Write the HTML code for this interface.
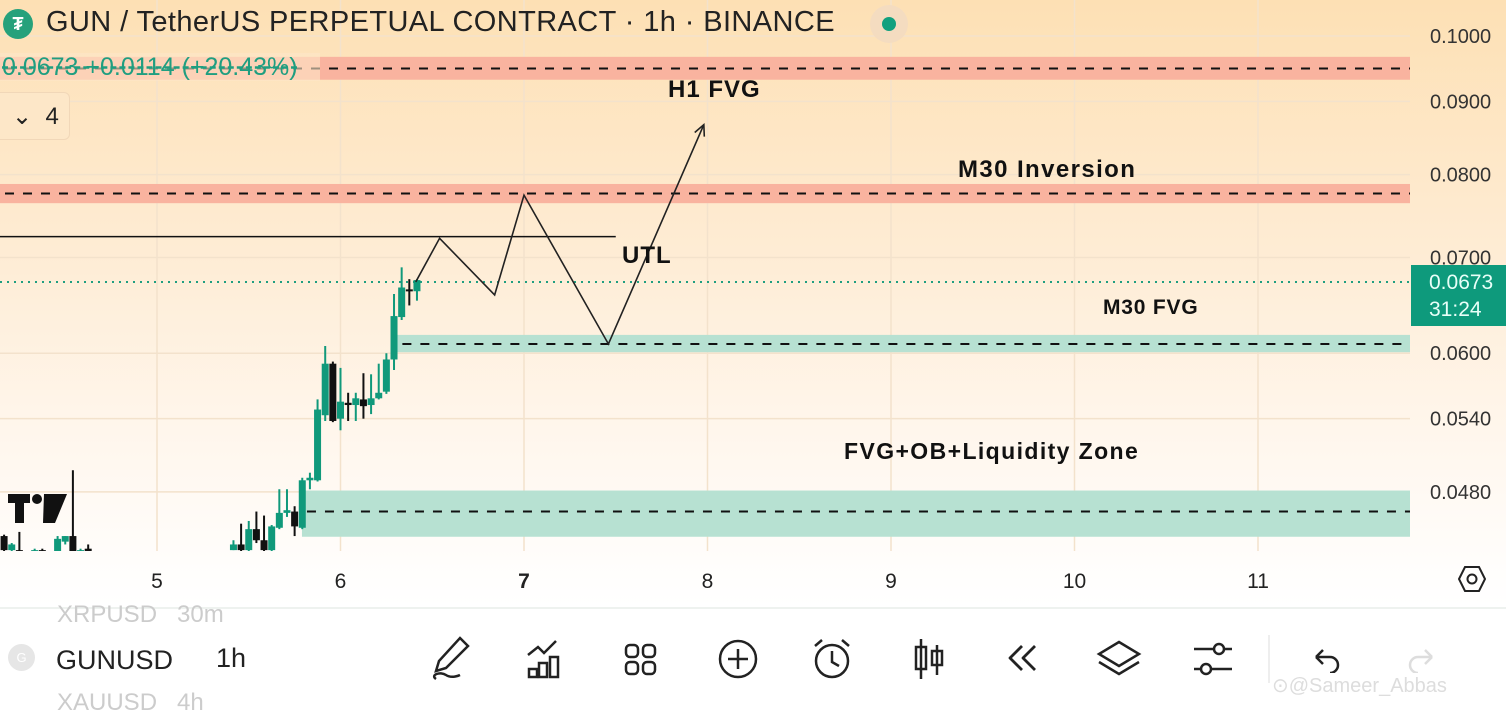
<!DOCTYPE html>
<html><head><meta charset="utf-8">
<style>
html,body{margin:0;padding:0;}
body{width:1506px;height:705px;overflow:hidden;position:relative;font-family:"Liberation Sans",sans-serif;background:#fff;}
#bg{position:absolute;left:0;top:0;width:1506px;height:607px;background:linear-gradient(#fde0b4 0px,#feecd4 250px,#fff6ec 430px,#fffdfb 560px,#fff 607px);}
svg{position:absolute;left:0;top:0;}
</style></head>
<body>
<div id="bg"></div>
<svg id="chart" width="1506" height="705">
<defs><clipPath id="plotclip"><rect x="0" y="0" width="1410" height="551"/></clipPath></defs>
<g id="grid"></g>
<g id="zones"></g>
<g id="candles" clip-path="url(#plotclip)"></g>
<g id="draw"></g>
<g id="axes"></g>
<g fill="#111">
 <rect x="8" y="494" width="22" height="9"/><rect x="15" y="494" width="9" height="29"/>
 <circle cx="37" cy="499" r="5"/><polygon points="44,494 67,494 55,523 43,523"/>
</g>
</svg>

<!-- header -->
<div style="position:absolute;left:3px;top:9px;width:30px;height:30px;border-radius:50%;background:#26a17b;color:#fff;font-size:18px;font-weight:bold;text-align:center;line-height:30px;">₮</div>
<div style="position:absolute;left:46px;top:6px;font-size:29px;letter-spacing:0.4px;color:#222;white-space:nowrap;">GUN / TetherUS PERPETUAL CONTRACT · 1h · BINANCE</div>
<div style="position:absolute;left:870px;top:5px;width:38px;height:38px;border-radius:50%;background:#f4dcc0;"><div style="position:absolute;left:12px;top:12px;width:14px;height:14px;border-radius:50%;background:#11a07e;"></div></div>
<div style="position:absolute;left:0;top:53px;width:318px;height:28px;background:rgba(253,230,200,0.6);font-size:25px;color:#1f9e80;white-space:nowrap;line-height:28px;padding-left:2px;text-decoration:line-through;text-decoration-style:dashed;">0.0673 +0.0114 (+20.43%)</div>
<div style="position:absolute;left:0;top:92px;width:70px;height:48px;border:1px solid #f1d7b8;border-left:none;border-radius:0 6px 6px 0;background:#fde7c8;font-size:24px;color:#222;line-height:48px;box-sizing:border-box;padding-left:12px;">⌄&nbsp;&nbsp;4</div>

<!-- labels -->
<div style="position:absolute;left:668px;top:76px;font-size:24px;font-weight:bold;color:#111;letter-spacing:1px;">H1 FVG</div>
<div style="position:absolute;left:958px;top:156px;font-size:24px;font-weight:bold;color:#111;letter-spacing:1.4px;">M30 Inversion</div>
<div style="position:absolute;left:622px;top:242px;font-size:24px;font-weight:bold;color:#111;letter-spacing:1px;">UTL</div>
<div style="position:absolute;left:1103px;top:296px;font-size:21px;font-weight:bold;color:#111;letter-spacing:0.8px;">M30 FVG</div>
<div style="position:absolute;left:844px;top:438px;font-size:23px;font-weight:bold;color:#111;letter-spacing:1.4px;">FVG+OB+Liquidity Zone</div>

<!-- price badge -->
<div style="position:absolute;left:1411px;top:265px;width:95px;height:61px;background:#0e9a7c;color:#e8fff8;font-size:21px;line-height:27px;padding:4px 0 0 18px;box-sizing:border-box;">0.0673<br>31:24</div>
<div style="position:absolute;left:1458px;top:565px;width:28px;height:28px;">
<svg width="28" height="28"><polygon points="7,2 21,2 27,14 21,26 7,26 1,14" fill="none" stroke="#222" stroke-width="2"/><circle cx="14" cy="14" r="4.5" fill="none" stroke="#222" stroke-width="2"/></svg></div>

<!-- bottom toolbar -->
<div style="position:absolute;left:0;top:607px;width:1506px;height:98px;border-top:2px solid #eef2ef;background:#fff;">
 <div style="position:absolute;left:57px;top:-8px;font-size:24px;color:#ccc;">XRPUSD&nbsp;&nbsp;&nbsp;30m</div>
 <div style="position:absolute;left:8px;top:35px;width:27px;height:27px;border-radius:50%;background:#e6e6e6;color:#fff;font-size:13px;text-align:center;line-height:27px;">G</div>
 <div style="position:absolute;left:56px;top:36px;font-size:27px;color:#222;">GUNUSD</div>
 <div style="position:absolute;left:216px;top:34px;font-size:27px;color:#222;">1h</div>
 <div style="position:absolute;left:57px;top:80px;font-size:24px;color:#ccc;">XAUUSD&nbsp;&nbsp;&nbsp;4h</div>
 <div style="position:absolute;left:430px;top:26px;"><svg width="42" height="46"><path d="M30 3l8 8-22 22-10 3 3-10z" fill="none" stroke="#222" stroke-width="2.5"/><path d="M6 44c-6-4 4-8 10-4s14 0 14 0" fill="none" stroke="#222" stroke-width="2.5"/></svg></div>
 <div style="position:absolute;left:526px;top:30px;"><svg width="40" height="40"><polyline points="2,16 12,8 18,14 30,2" fill="none" stroke="#222" stroke-width="2.5"/><rect x="3" y="30" width="8" height="8" fill="none" stroke="#222" stroke-width="2.5"/><rect x="13" y="24" width="8" height="14" fill="none" stroke="#222" stroke-width="2.5"/><rect x="24" y="18" width="8" height="20" fill="none" stroke="#222" stroke-width="2.5"/></svg></div>
 <div style="position:absolute;left:624px;top:34px;"><svg width="34" height="34"><rect x="2" y="2" width="12" height="12" rx="4" fill="none" stroke="#222" stroke-width="2.5"/><rect x="19" y="2" width="12" height="12" rx="4" fill="none" stroke="#222" stroke-width="2.5"/><rect x="2" y="19" width="12" height="12" rx="4" fill="none" stroke="#222" stroke-width="2.5"/><rect x="19" y="19" width="12" height="12" rx="4" fill="none" stroke="#222" stroke-width="2.5"/></svg></div>
 <div style="position:absolute;left:717px;top:29px;"><svg width="42" height="42"><circle cx="21" cy="21" r="18" fill="none" stroke="#222" stroke-width="2.5"/><path d="M21 11v20M11 21h20" stroke="#222" stroke-width="2.5"/></svg></div>
 <div style="position:absolute;left:810px;top:28px;"><svg width="44" height="44"><circle cx="22" cy="24" r="16" fill="none" stroke="#222" stroke-width="2.5"/><path d="M22 14v11l7 4M5 9l7-6M39 9l-7-6" fill="none" stroke="#222" stroke-width="2.5"/></svg></div>
 <div style="position:absolute;left:912px;top:28px;"><svg width="34" height="44"><path d="M9 2v40M25 8v30" stroke="#222" stroke-width="2.5"/><rect x="4" y="10" width="10" height="22" fill="none" stroke="#222" stroke-width="2.5"/><rect x="20" y="14" width="10" height="14" fill="none" stroke="#222" stroke-width="2.5"/></svg></div>
 <div style="position:absolute;left:1006px;top:34px;"><svg width="32" height="30"><path d="M16 3L4 15l12 12M29 3L17 15l12 12" fill="none" stroke="#222" stroke-width="2.8" stroke-linejoin="round"/></svg></div>
 <div style="position:absolute;left:1096px;top:30px;"><svg width="46" height="40"><polygon points="23,3 43,15 23,27 3,15" fill="none" stroke="#222" stroke-width="2.5"/><polyline points="3,23 23,35 43,23" fill="none" stroke="#222" stroke-width="2.5"/></svg></div>
 <div style="position:absolute;left:1192px;top:30px;"><svg width="42" height="40"><path d="M2 10h38M2 30h38" stroke="#222" stroke-width="2.5"/><circle cx="27" cy="10" r="5" fill="#fff" stroke="#222" stroke-width="2.5"/><circle cx="14" cy="30" r="5" fill="#fff" stroke="#222" stroke-width="2.5"/></svg></div>
 <div style="position:absolute;left:1268px;top:26px;width:2px;height:48px;background:#eee;"></div>
 <div style="position:absolute;left:1312px;top:38px;"><svg width="30" height="26"><path d="M4 10h14a8 8 0 0 1 0 16M4 10l7-7M4 10l7 7" fill="none" stroke="#222" stroke-width="2.5"/></svg></div>
 <div style="position:absolute;left:1406px;top:38px;"><svg width="30" height="26"><path d="M26 10H12a8 8 0 0 0 0 16M26 10l-7-7M26 10l-7 7" fill="none" stroke="#ddd" stroke-width="2.5"/></svg></div>
 <div style="position:absolute;left:1272px;top:64px;font-size:20px;color:#ddd;">⊙@Sameer_Abbas</div>
</div>

<script>
// ---- data ----
const priceTicks = [0.1, 0.09, 0.08, 0.07, 0.06, 0.054, 0.048];
const tickLabels = ["0.1000","0.0900","0.0800","0.0700","0.0600","0.0540","0.0480"];
const dayTicks = [5,6,7,8,9,10,11];
const dayLabels = ["5","6","7","8","9","10","11"];
// candle time: hours since day 5 00:00
const cTime  = [-20,-19,-18,-16,-15,-13,-12,-11,-10,-9,10,11,12,13,14,15,16,17,18,19,20,21,22,23,24,25,26,27,28,29,30,31,32,33,34];
const cOpen  = [0.0447,0.0437,0.0437,0.0436,0.0437,0.0436,0.0443,0.0447,0.0436,0.0438,0.0437,0.0441,0.0437,0.0452,0.0444,0.0437,0.0453,0.0464,0.0465,0.0453,0.0489,0.0489,0.0543,0.0590,0.0540,0.0554,0.0552,0.0557,0.0552,0.0558,0.0564,0.0594,0.0636,0.0665,0.0663];
const cClose = [0.0437,0.0441,0.0436,0.0437,0.0436,0.0445,0.0447,0.0436,0.0437,0.0436,0.0441,0.0437,0.0452,0.0444,0.0437,0.0454,0.0464,0.0466,0.0454,0.0489,0.0491,0.0548,0.0590,0.0538,0.0555,0.0552,0.0558,0.0551,0.0558,0.0563,0.0594,0.0637,0.0667,0.0663,0.0675];
const cHigh  = [0.0448,0.0442,0.0450,0.0438,0.0438,0.0447,0.0447,0.0497,0.0438,0.0441,0.0444,0.0456,0.0458,0.0465,0.0462,0.0455,0.0482,0.0482,0.0469,0.0491,0.0495,0.0557,0.0607,0.0592,0.0586,0.0563,0.0563,0.0581,0.0580,0.0590,0.0600,0.0660,0.0689,0.0676,0.0676];
const cLow   = [0.0436,0.0436,0.0435,0.0435,0.0435,0.0435,0.0441,0.0430,0.0435,0.0435,0.0437,0.0436,0.0436,0.0442,0.0435,0.0436,0.0452,0.0461,0.0447,0.0452,0.0482,0.0488,0.0538,0.0537,0.0530,0.0538,0.0538,0.0540,0.0544,0.0557,0.0562,0.0584,0.0633,0.0648,0.0653];
// zones
const zoneLow   = [0.0932, 0.0764, 0.0601, 0.04465];
const zoneHigh  = [0.0967, 0.0788, 0.0618, 0.0481];
const zoneStart = [4.0, 4.0, 6.31, 5.79];
const zoneMid   = [0.0949, 0.0776, 0.0609, 0.0465];
const zoneColor = ["#f9b39f","#f9b39f","#b7e1d2","#b7e1d2"];
const utlPrice = 0.0724, utlEnd = 7.5;
const lastPrice = 0.0673;
// projected path [day, price]
const pathDay   = [6.41, 6.54, 6.84, 7.0, 7.46, 7.98];
const pathPrice = [0.0673, 0.0722, 0.0659, 0.0774, 0.0609, 0.0867];

// ---- axes ----
const X = d => 157 + (d - 5) * 183.5;
const Y = p => 36 + (-1 - Math.log10(p)) * 1430;
const XH = h => X(5 + h / 24);
const NS = "http://www.w3.org/2000/svg";
function mk(tag, attrs, parent){const e=document.createElementNS(NS,tag);for(const k in attrs)e.setAttribute(k,attrs[k]);document.getElementById(parent).appendChild(e);return e;}

priceTicks.forEach((p,i)=>{
  const l=mk('line',{x1:0,x2:1410,y1:Y(p),y2:Y(p),stroke:'#f3e2cc','stroke-width':1.5},'grid');
  
  
  const t=mk('text',{x:1430,y:Y(p)+7,'font-size':20,fill:'#333','font-family':'Liberation Sans, sans-serif'},'axes');
  t.textContent=tickLabels[i];
  
  
});
dayTicks.forEach((d,i)=>{
  const l=mk('line',{x1:X(d),x2:X(d),y1:0,y2:551,stroke:'#f3e2cc','stroke-width':1.5},'grid');
  
  
  const t=mk('text',{x:X(d),y:588,'font-size':21,fill:'#222','text-anchor':'middle','font-weight':d===7?'bold':'normal','font-family':'Liberation Sans, sans-serif'},'axes');
  t.textContent=dayLabels[i];
  
  
});

zoneLow.forEach((lo,i)=>{
  const x0=Math.max(0,X(zoneStart[i]));
  const r=mk('rect',{x:x0,y:Y(zoneHigh[i]),width:1410-x0,height:Y(lo)-Y(zoneHigh[i]),fill:zoneColor[i]},'zones');
  
  
  const l=mk('line',{x1:x0+5,x2:1410,y1:Y(zoneMid[i]),y2:Y(zoneMid[i]),stroke:'#111','stroke-width':2,'stroke-dasharray':'9,9'},'zones');
  
  
});
const lp=mk('line',{x1:0,x2:1410,y1:Y(lastPrice),y2:Y(lastPrice),stroke:'#1f9e80','stroke-width':2,'stroke-dasharray':'2,5'},'zones');


const ul=mk('line',{x1:0,x2:X(utlEnd),y1:Y(utlPrice),y2:Y(utlPrice),stroke:'#111','stroke-width':1.5},'draw');



cTime.forEach((t,i)=>{
  const x=XH(t), up=cClose[i]>=cOpen[i], col=up?'#10997b':'#111';
  const w=mk('line',{x1:x,x2:x,y1:Y(cHigh[i]),y2:Y(cLow[i]),stroke:col,'stroke-width':2},'candles');
  
  
  const top=Y(Math.max(cOpen[i],cClose[i])), bot=Y(Math.min(cOpen[i],cClose[i]));
  const b=mk('rect',{x:x-3.5,y:top,width:7,height:Math.max(2,bot-top),fill:col},'candles');
  
  
});

const pts=pathDay.map((d,i)=>X(d)+','+Y(pathPrice[i])).join(' ');
const pl=mk('polyline',{points:pts,fill:'none',stroke:'#222','stroke-width':1.6},'draw');


const n=pathDay.length, ex=X(pathDay[n-1]), ey=Y(pathPrice[n-1]), px=X(pathDay[n-2]), py=Y(pathPrice[n-2]);
const ang=Math.atan2(ey-py,ex-px);
const ah=mk('polyline',{points:`${ex-12*Math.cos(ang-0.45)},${ey-12*Math.sin(ang-0.45)} ${ex},${ey} ${ex-12*Math.cos(ang+0.45)},${ey-12*Math.sin(ang+0.45)}`,fill:'none',stroke:'#222','stroke-width':1.6},'draw');


</script>
</body></html>
